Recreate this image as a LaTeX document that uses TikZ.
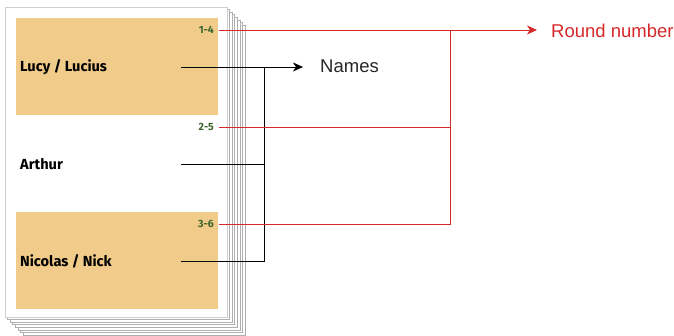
\documentclass[tikz,border=0pt]{standalone}
\usepackage{fontspec}
\setmainfont{Liberation Sans}
\newfontfamily\cardfont{Fira Sans}
\usetikzlibrary{arrows.meta}
\definecolor{cardtan}{RGB}{240,203,137}
\definecolor{roundred}{RGB}{214,40,40}
\definecolor{rangegreen}{RGB}{58,100,44}
\definecolor{pagegray}{RGB}{175,175,175}

\begin{document}
\begin{tikzpicture}[x=1pt, y=-1pt,
	cardpage/.style={draw=pagegray, fill=white, line width=0.9pt},
	namebox/.style={fill=cardtan},
	cardname/.style={anchor=west, inner sep=0pt, font=\cardfont\bfseries\fontsize{14.6}{15}\selectfont},
	roundrange/.style={anchor=east, inner sep=0pt, text=rangegreen, font=\cardfont\bfseries\fontsize{10.5}{11}\selectfont},
	legendtext/.style={anchor=west, inner sep=0pt, font=\fontsize{18.5}{20}\selectfont},
	nameline/.style={draw=black, line width=0.9pt},
	roundline/.style={draw=roundred, line width=0.9pt},
	tip/.style={-{Stealth[length=10pt, width=9pt, inset=3pt]}}]
	\useasboundingbox (0,0) rectangle (674,336);
	% stack of cards
	\foreach \k in {7,6,...,1}
		\draw[cardpage] (5+2.6*\k,7+2.6*\k) rectangle +(222,310);
	\draw[cardpage, draw=pagegray!60] (5,7) rectangle (227,317);
	\fill[namebox] (16,18) rectangle (218,115);
	\fill[namebox] (16,212) rectangle (218,309);
	% names on the card
	\node[cardname] (lucy) at (20,67) {Lucy / Lucius};
	\node[cardname] (arthur) at (20,164) {Arthur};
	\node[cardname] (nicolas) at (20,261) {Nicolas / Nick};
	\coordinate (lucyend) at (181,67);
	\coordinate (arthurend) at (181,164);
	\coordinate (nicolasend) at (181,261);
	% round ranges
	\node[roundrange] (r14) at (214,30) {1-4};
	\node[roundrange] (r25) at (214,127) {2-5};
	\node[roundrange] (r36) at (214,224) {3-6};
	% legend
	\node[legendtext, text=black!85] (names) at (320,66) {Names};
	\node[legendtext, text=roundred] (round) at (551,31) {Round number};
	\coordinate (namesjoin) at (264,67);
	\coordinate (namestip) at (303,67);
	\coordinate (roundjoin) at (450,30);
	\coordinate (roundtip) at (537,30);
	% connectors
	\draw[nameline] (lucyend) -- (namesjoin);
	\draw[nameline] (arthurend) -- (arthurend -| namesjoin);
	\draw[nameline] (nicolasend) -- (nicolasend -| namesjoin) -- (namesjoin);
	\draw[nameline, tip] (namesjoin) -- (namestip);
	\draw[roundline] ([xshift=5pt]r14.east) -- (roundjoin);
	\draw[roundline] ([xshift=5pt]r25.east) -- (r25.east -| roundjoin);
	\draw[roundline] ([xshift=5pt]r36.east) -- (r36.east -| roundjoin) -- (roundjoin);
	\draw[roundline, tip] (roundjoin) -- (roundtip);
\end{tikzpicture}
\end{document}
